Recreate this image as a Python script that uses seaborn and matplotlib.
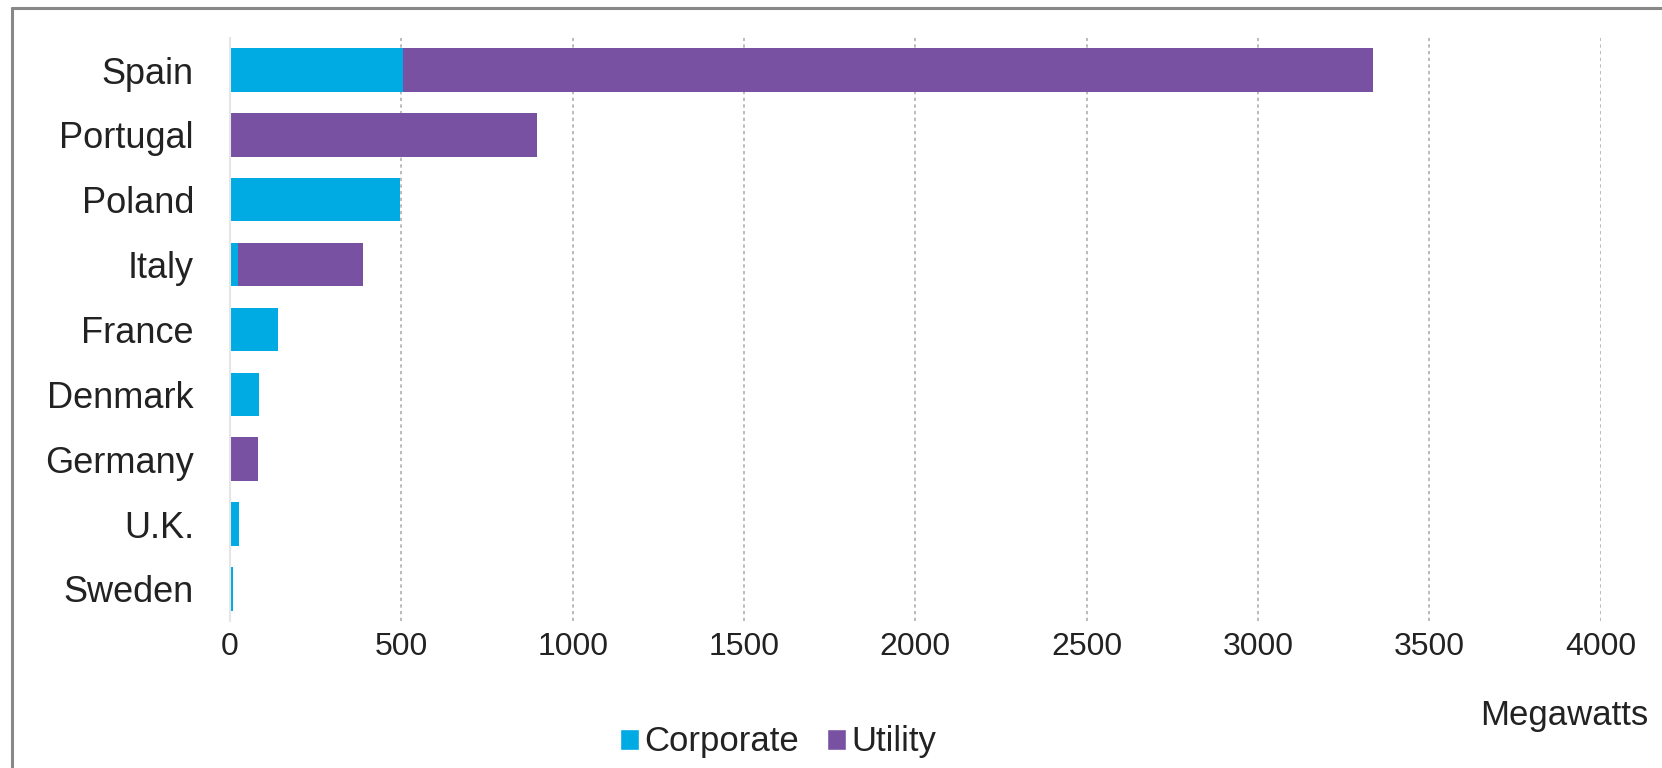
import matplotlib
matplotlib.use('Agg')
import matplotlib.pyplot as plt
import seaborn as sns
import pandas as pd
from matplotlib.patches import Patch
from matplotlib.lines import Line2D

countries = ['Spain', 'Portugal', 'Poland', 'Italy', 'France', 'Denmark', 'Germany', 'U.K.', 'Sweden']
corporate = [505, 0, 495, 22, 140, 85, 0, 25, 9]
utility = [2830, 895, 0, 365, 0, 0, 82, 0, 0]
x_ticks = [0, 500, 1000, 1500, 2000, 2500, 3000, 3500, 4000]

corp_color = '#00AAE2'
util_color = '#7851A3'

df = pd.DataFrame({'country': countries, 'corporate': corporate, 'utility': utility})
df['total'] = df['corporate'] + df['utility']

sns.set_style('white')
plt.rcParams['font.family'] = ['Liberation Sans', 'DejaVu Sans']

fig = plt.figure(figsize=(16.62, 7.68), dpi=100)
ax = fig.add_axes([0.1384, 0.191, 0.963 - 0.1384, 0.951 - 0.191])

# stacked: total drawn in utility colour, corporate on top from zero
sns.barplot(data=df, x='total', y='country', color=util_color, width=0.67,
            saturation=1, linewidth=0, ax=ax, orient='h')
sns.barplot(data=df, x='corporate', y='country', color=corp_color, width=0.67,
            saturation=1, linewidth=0, ax=ax, orient='h')

ax.set_xlim(0, 4000)
ax.set_ylim(8.5, -0.5)
ax.set_xticks(x_ticks)
ax.set_xlabel('')
ax.set_ylabel('')
ax.tick_params(axis='both', length=0, colors='#222222')
ax.tick_params(axis='y', pad=26, labelsize=26)
ax.tick_params(axis='x', pad=8, labelsize=23)
ax.xaxis.grid(True, linestyle=(0, (2, 2)), color='#b0b0b0', linewidth=1.2)
ax.set_axisbelow(True)
for s in ['top', 'right', 'bottom']:
    ax.spines[s].set_visible(False)
ax.spines['left'].set_color('#e6e6e6')
ax.spines['left'].set_linewidth(1.5)

handles = [Patch(facecolor=corp_color, label='Corporate'),
           Patch(facecolor=util_color, label='Utility')]
fig.legend(handles=handles, loc='center', bbox_to_anchor=(0.468, 0.034), ncol=2,
           frameon=False, fontsize=25, handlelength=0.55, handleheight=0.55,
           handletextpad=0.15, columnspacing=0.8, labelcolor='#222222')

fig.text(0.9916, 0.068, 'Megawatts', ha='right', va='center', fontsize=25, color='#222222')

# outer frame: left and top edges only
fig.add_artist(Line2D([0.0072, 0.0072], [0, 0.9895], transform=fig.transFigure,
                      color='#888888', linewidth=2.2))
fig.add_artist(Line2D([0.0072, 1.0], [0.9895, 0.9895], transform=fig.transFigure,
                      color='#888888', linewidth=2.2))

fig.savefig('out.png', dpi=100, facecolor='white')
